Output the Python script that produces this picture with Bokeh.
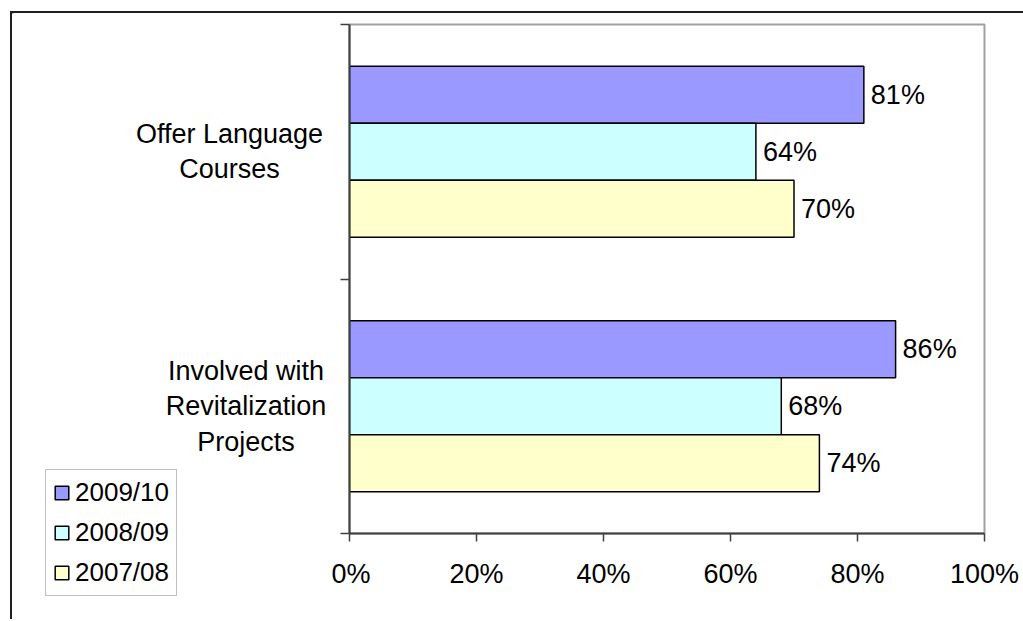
from bokeh.plotting import figure
from bokeh.layouts import row
from bokeh.models import (ColumnDataSource, Range1d, FixedTicker, NumeralTickFormatter,
                          Legend, LegendItem)
from bokeh.transform import dodge
from bokeh.core.properties import value
from bokeh.embed import file_html
from bokeh.resources import INLINE

# ---- data ----
categories = ["Offer Language Courses", "Involved with Revitalization Projects"]
category_text = ["Offer Language\nCourses", "Involved with\nRevitalization\nProjects"]
series = ["2009/10", "2008/09", "2007/08"]
v_2009_10 = [0.81, 0.86]
v_2008_09 = [0.64, 0.68]
v_2007_08 = [0.70, 0.74]
x_ticks = [0, 0.2, 0.4, 0.6, 0.8, 1.0]

# ---- style / layout ----
colors = ["#9999FF", "#CCFFFF", "#FFFFCC"]
FONT = "Liberation Sans"
FS = "27px"
bar_h = 0.224
H = 606                      # figure heights
LEFT_W = 319                 # width of label/legend panel
MAIN_W = 692
MB_LEFT, MB_RIGHT, MB_TOP, MB_BOTTOM = 18, 39, 11, 86
label_cx = [217, 233.5]      # centres of category labels in the label panel (px)

n = len(categories)
pos = [n - i - 0.5 for i in range(n)]

# ---------------- main chart ----------------
p = figure(width=MAIN_W, height=H, x_range=Range1d(0, 1), y_range=Range1d(0, n),
           output_backend="svg", toolbar_location=None,
           min_border_left=MB_LEFT, min_border_right=MB_RIGHT,
           min_border_top=MB_TOP, min_border_bottom=MB_BOTTOM)
p.frame_align = False
p.background_fill_color = "white"
p.border_fill_color = "white"
p.outline_line_color = "#A0A0A0"
p.outline_line_width = 2
p.xgrid.visible = False
p.ygrid.visible = False

p.xaxis.ticker = FixedTicker(ticks=x_ticks)
p.xaxis.formatter = NumeralTickFormatter(format="0%")
p.xaxis.major_tick_in = 0
p.xaxis.major_tick_out = 8
p.xaxis.minor_tick_line_color = None
p.xaxis.axis_line_color = "#404040"
p.xaxis.axis_line_width = 2
p.xaxis.major_tick_line_color = "#404040"
p.xaxis.major_tick_line_width = 1.5
p.xaxis.major_label_text_font = FONT
p.xaxis.major_label_text_font_size = FS
p.xaxis.major_label_text_color = "black"
p.xaxis.major_label_standoff = 17

p.yaxis.ticker = FixedTicker(ticks=list(range(n + 1)))
p.yaxis.major_label_overrides = {i: "" for i in range(n + 1)}
p.yaxis.major_label_text_font_size = "0px"
p.yaxis.major_label_standoff = 0
p.yaxis.major_tick_in = 0
p.yaxis.major_tick_out = 9
p.yaxis.minor_tick_line_color = None
p.yaxis.axis_line_color = "#404040"
p.yaxis.axis_line_width = 2
p.yaxis.major_tick_line_color = "#404040"
p.yaxis.major_tick_line_width = 1.5

all_vals = [v_2009_10, v_2008_09, v_2007_08]
for k, (vals, col) in enumerate(zip(all_vals, colors)):
    src = ColumnDataSource(dict(y=pos, v=vals, lab=[f"{round(v * 100)}%" for v in vals]))
    off = (1 - k) * bar_h
    p.hbar(y=dodge("y", off), left=0, right="v", height=bar_h, source=src,
           fill_color=col, line_color="black", line_width=1.5)
    p.text(x="v", y=dodge("y", off), text="lab", source=src, x_offset=7,
           text_baseline="middle", text_align="left", text_font=value(FONT),
           text_font_size=FS, text_color="black")

# ---------------- label / legend panel (same vertical scale) ----------------
scale = (H - MB_TOP - MB_BOTTOM) / n
q = figure(width=LEFT_W, height=H, x_range=Range1d(0, LEFT_W),
           y_range=Range1d(0 - MB_BOTTOM / scale, n + MB_TOP / scale),
           output_backend="svg", toolbar_location=None,
           x_axis_type=None, y_axis_type=None, min_border=0)
q.frame_align = False
q.min_border_left = q.min_border_right = q.min_border_top = q.min_border_bottom = 0
q.outline_line_color = None
q.xgrid.visible = False
q.ygrid.visible = False
q.background_fill_color = "white"
q.border_fill_color = "white"

q.text(x=label_cx, y=pos, text=category_text, text_align="center", text_baseline="middle",
       text_font=value(FONT), text_font_size=FS, text_line_height=1.18, text_color="black")

# legend swatches (one off-screen row each so that the legend glyph is drawn)
items = []
for name, col in zip(series, colors):
    dummy = ColumnDataSource(dict(y=[n + 100], v=[0]))
    r = q.hbar(y="y", right="v", left=0, height=1, source=dummy,
               fill_color=col, line_color="black", line_width=1.5)
    items.append(LegendItem(label=name, renderers=[r]))

legend = Legend(items=items, location=(33, 23), orientation="vertical",
                border_line_color="#808080", border_line_width=1.5,
                background_fill_color="white", background_fill_alpha=1,
                label_text_font=FONT, label_text_font_size="26px", label_text_color="black",
                glyph_width=17, glyph_height=17, label_standoff=5, spacing=9,
                label_height=30, padding=7, margin=0)
q.add_layout(legend)

layout = row(q, p, spacing=0, margin=(11, 0, 0, 10),
             styles={"border-top": "2px solid #202020", "border-left": "2px solid #202020"})

open("out.html", "w").write(file_html(layout, INLINE))
